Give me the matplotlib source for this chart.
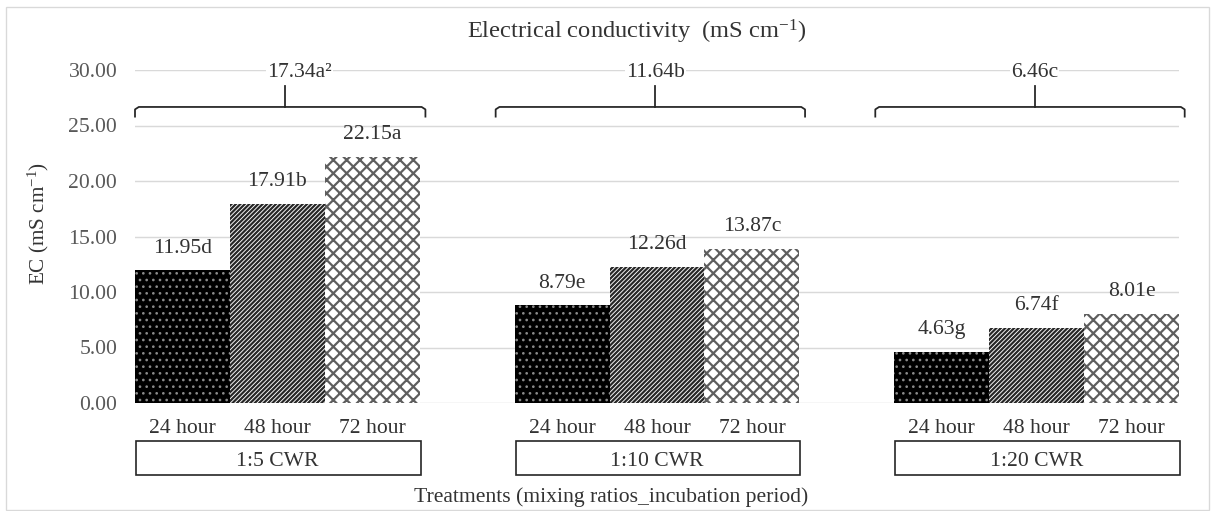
import matplotlib
matplotlib.use("Agg")
import matplotlib.pyplot as plt
from matplotlib.patches import Rectangle
import matplotlib.transforms as mtransforms

# data
groups = ['1:5 CWR', '1:10 CWR', '1:20 CWR']
periods = ['24 hour', '48 hour', '72 hour']
ec_24 = [11.95, 8.79, 4.63]
ec_48 = [17.91, 12.26, 6.74]
ec_72 = [22.15, 13.87, 8.01]
letters_24 = ['d', 'e', 'g']
letters_48 = ['b', 'd', 'f']
letters_72 = ['a', 'c', 'e']
group_means = [17.34, 11.64, 6.46]
group_letters = ['a\u00b2', 'b', 'c']

plt.rcParams['font.family'] = ['Liberation Serif', 'DejaVu Serif']
plt.rcParams['mathtext.fontset'] = 'custom'
plt.rcParams['mathtext.rm'] = 'Liberation Serif'
plt.rcParams['mathtext.it'] = 'Liberation Serif:italic'

DPI = 80
FS = 19.5
fig = plt.figure(figsize=(1211 / DPI, 511 / DPI), dpi=DPI)
ax = fig.add_axes([135 / 1211, 108 / 511, 1044 / 1211, 333 / 511])

txt = '#333333'
series = [ec_24, ec_48, ec_72]
letters = [letters_24, letters_48, letters_72]
styles = [
    dict(facecolor='black', edgecolor='#8a8a8a', hatch='..'),
    dict(facecolor='white', edgecolor='#262626', hatch='//////'),
    dict(facecolor='white', edgecolor='#5e5e5e', hatch='xx'),
]
hatch_lw = [1.2, 2.0, 2.0]

for j in range(3):
    xs = [4 * i + j for i in range(3)]
    with plt.rc_context({'hatch.linewidth': hatch_lw[j]}):
        bars = ax.bar(xs, series[j], width=1.0, linewidth=0, zorder=2, **styles[j])
        for b in bars:
            if hasattr(b, 'set_hatch_linewidth'):
                b.set_hatch_linewidth(hatch_lw[j])
    for x, v, l in zip(xs, series[j], letters[j]):
        ax.annotate(f'{v:.2f}{l}', (x, v), xytext=(0, 20), textcoords='offset points',
                    ha='center', va='center', fontsize=FS, color=txt)

ax.set_xlim(-0.5, 10.5)
ax.set_ylim(0, 30)
ax.set_yticks(range(0, 31, 5))
ax.set_yticklabels([f'{t:.2f}' for t in range(0, 31, 5)], fontsize=FS, color='#595959')
ax.tick_params(axis='y', length=0, pad=16)
ax.set_xticks([])
ax.grid(axis='y', color='#d9d9d9', linewidth=1.3, zorder=0)
ax.set_axisbelow(True)
for s in ax.spines.values():
    s.set_visible(False)

trans = mtransforms.blended_transform_factory(ax.transData, ax.transAxes)
for i, g in enumerate(groups):
    first, last = 4 * i, 4 * i + 2
    # hour labels
    for j, p in enumerate(periods):
        ax.text(4 * i + j, -0.078, p, transform=trans, ha='center', va='center',
                fontsize=FS, color=txt)
    # group box
    ax.add_patch(Rectangle((first - 0.49, -0.216), 3.0, 0.102, transform=trans,
                           facecolor='white', edgecolor='#262626', linewidth=1.5,
                           clip_on=False))
    ax.text(first + 1, -0.177, g, transform=trans, ha='center', va='center',
            fontsize=FS, color=txt)
    # brace with the group mean
    left = first - 0.5 - (0.0 if i == 0 else 0.2)
    right = last + 0.5 + 0.06
    mid = (left + right) / 2
    ax.plot([left, left, left + 0.04, right - 0.04, right, right],
            [25.8, 26.45, 26.67, 26.67, 26.45, 25.8],
            color='#262626', linewidth=1.6, clip_on=False, zorder=3)
    ax.plot([mid + 0.05, mid + 0.05], [26.67, 28.6], color='#262626', linewidth=1.6,
            clip_on=False, zorder=3)
    ax.text(mid + 0.05 + (0.15 if i == 0 else 0), 29.8, f'{group_means[i]:.2f}{group_letters[i]}',
            ha='center', va='center', fontsize=FS, color=txt, zorder=4,
            bbox=dict(facecolor='white', edgecolor='none', pad=1))

fig.text(637 / 1211, 1 - 32 / 511, r'Electrical conductivity  (mS cm$^{-1}$)',
         ha='center', va='center', fontsize=22, color=txt)
fig.text(38 / 1211, 1 - 223 / 511, r'EC (mS cm$^{-1}$)', rotation=90,
         ha='center', va='center', fontsize=19, color=txt)
fig.text(611 / 1211, 1 - 497 / 511, 'Treatments (mixing ratios_incubation period)',
         ha='center', va='center', fontsize=FS, color=txt)

fig.patches.append(Rectangle((6 / 1211, 1 / 511), 1203 / 1211, 503 / 511,
                             transform=fig.transFigure, facecolor='none',
                             edgecolor='#d9d9d9', linewidth=1.2))

fig.savefig('out.png', dpi=DPI)
